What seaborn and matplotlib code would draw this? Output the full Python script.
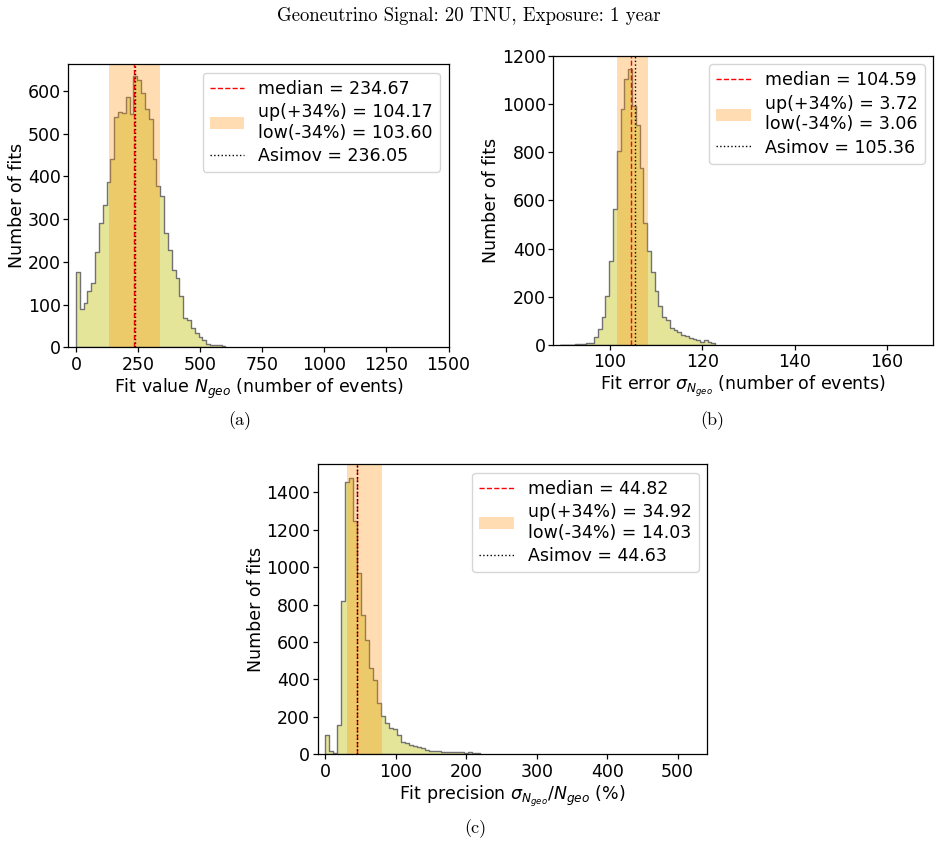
import numpy as np
import pandas as pd
import matplotlib
matplotlib.use("Agg")
import matplotlib.pyplot as plt
import seaborn as sns

# (a) fitted number of geoneutrino events
a_range = (0.0, 602.0)
a_counts = [176, 89, 103, 131, 150, 222, 290, 332, 387, 441, 538, 551, 548,
            585, 545, 634, 626, 596, 557, 534, 440, 377, 355, 268, 227, 182,
            162, 120, 68, 63, 46, 34, 23, 17, 8, 6, 5, 5, 3]
a_stats = dict(median=234.67, up=104.17, low=103.60, asimov=236.05)

# (b) fit error on the number of events
b_range = (89.15, 122.82)
b_counts = [1, 1, 1, 2, 3, 4, 6, 8, 10, 32, 65, 118, 203, 350, 563, 806, 977,
            1102, 1143, 991, 912, 733, 507, 391, 304, 225, 162, 118, 104, 71,
            62, 54, 40, 37, 30, 24, 20, 14, 20, 12, 10]
b_stats = dict(median=104.59, up=3.72, low=3.06, asimov=105.36)

# (c) relative fit precision in percent
c_range = (0.0, 220.0)
c_counts = [102, 20, 5, 155, 818, 1457, 1475, 1244, 967, 743, 611, 460, 397,
            273, 205, 166, 143, 137, 103, 68, 62, 50, 46, 41, 34, 25, 20, 18,
            16, 14, 13, 12, 12, 10, 11, 9, 10, 8, 6]
c_stats = dict(median=44.82, up=34.92, low=14.03, asimov=44.63)

a_xticks = [0, 250, 500, 750, 1000, 1250, 1500]
b_xticks = [100, 120, 140, 160]
c_xticks = [0, 100, 200, 300, 400, 500]
a_yticks = [0, 100, 200, 300, 400, 500, 600]
b_yticks = [0, 200, 400, 600, 800, 1000, 1200]
c_yticks = [0, 200, 400, 600, 800, 1000, 1200, 1400]

FS = 12.5
sns.set_theme(style="ticks", rc={
    "axes.edgecolor": "black", "axes.labelcolor": "black",
    "text.color": "black", "xtick.color": "black", "ytick.color": "black",
    "axes.linewidth": 0.9, "xtick.major.width": 0.9, "ytick.major.width": 0.9,
    "xtick.major.size": 3.5, "ytick.major.size": 3.5,
    "xtick.major.pad": 2.5, "ytick.major.pad": 2.0,
    "font.size": FS, "axes.labelsize": FS, "xtick.labelsize": FS,
    "ytick.labelsize": FS, "legend.fontsize": FS,
})
plt.rcParams["font.family"] = ["DejaVu Sans"]

HIST = (0.75, 0.75, 0.0)
EDGE = "#727272"
BAND = "darkorange"


def draw_panel(ax, counts, rng, stats, xlabel, xlim, ylim, xticks, yticks):
    n = len(counts)
    width = (rng[1] - rng[0]) / n
    centers = rng[0] + width * (np.arange(n) + 0.5)
    df = pd.DataFrame({"value": centers, "fits": counts})
    sns.histplot(data=df, x="value", weights="fits", bins=n, binrange=rng,
                 element="step", fill=True, color=HIST, alpha=0.4,
                 edgecolor=EDGE, linewidth=1.0, ax=ax)
    med, up, low, asi = stats["median"], stats["up"], stats["low"], stats["asimov"]
    h1 = ax.axvline(med, color="red", ls="--", lw=1.0,
                    label=f"median = {med:.2f}")
    h2 = ax.axvspan(med - low, med + up, color=BAND, alpha=0.3, lw=0,
                    label=f"up(+34%) = {up:.2f}\nlow(-34%) = {low:.2f}")
    h3 = ax.axvline(asi, color="black", ls=":", lw=1.0,
                    label=f"Asimov = {asi:.2f}")
    ax.legend(handles=[h1, h2, h3], loc="upper right", labelspacing=0.3)
    ax.set_xlim(*xlim)
    ax.set_ylim(*ylim)
    ax.set_xticks(xticks)
    ax.set_yticks(yticks)
    ax.set_xlabel(xlabel, labelpad=2)
    ax.set_ylabel("Number of fits", labelpad=1)
    for s in ax.spines.values():
        s.set_visible(True)


fig = plt.figure(figsize=(9.37, 8.43), dpi=100)
ax_a = fig.add_axes([0.0731, 0.588, 0.4056, 0.3361])
ax_b = fig.add_axes([0.5905, 0.5907, 0.4056, 0.3432])
ax_c = fig.add_axes([0.339, 0.1052, 0.4158, 0.3444])

draw_panel(ax_a, a_counts, a_range, a_stats,
           r"Fit value $N_{geo}$ (number of events)",
           (-30, 1500), (0, 663), a_xticks, a_yticks)
draw_panel(ax_b, b_counts, b_range, b_stats,
           r"Fit error $\sigma_{N_{geo}}$ (number of events)",
           (87.7, 170.1), (0, 1200), b_xticks, b_yticks)
draw_panel(ax_c, c_counts, c_range, c_stats,
           r"Fit precision $\sigma_{N_{geo}}/N_{geo}$ (%)",
           (-11, 542), (0, 1551), c_xticks, c_yticks)

serif = dict(family="cmr10", ha="center", va="center")
fig.text(469 / 937, 1 - 16 / 843, "Geoneutrino Signal: 20 TNU, Exposure: 1 year",
         fontsize=13.5, **serif)
fig.text(240 / 937, 1 - 421 / 843, "(a)", fontsize=13, **serif)
fig.text(712 / 937, 1 - 421 / 843, "(b)", fontsize=13, **serif)
fig.text(475 / 937, 1 - 829 / 843, "(c)", fontsize=13, **serif)

fig.savefig("out.png", dpi=100)
